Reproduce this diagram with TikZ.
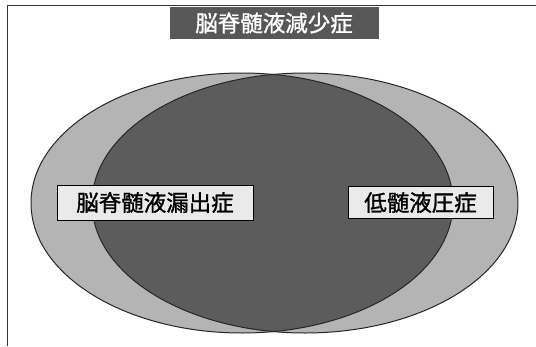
\documentclass[tikz,border=0pt]{standalone}
\usepackage{fontspec}
\newfontfamily\jp{Noto Sans CJK JP}[FakeBold=1.2]
\definecolor{lightg}{HTML}{B4B4B4}
\definecolor{darkg}{HTML}{5C5C5C}
\definecolor{titleg}{HTML}{575757}
\definecolor{labelg}{HTML}{EAEAEA}
\begin{document}
\begin{tikzpicture}[x=1pt,y=-1pt,
  labelbox/.style={draw=black, line width=0.9pt, fill=labelg, inner sep=0pt,
    font=\jp\fontsize{22.5}{24}\selectfont, text=black},
  titlebox/.style={fill=titleg, inner sep=0pt,
    font=\jp\fontsize{22.5}{24}\selectfont, text=white},
  ovalline/.style={draw=black!85, line width=1pt}]
\useasboundingbox (0,0) rectangle (536,346);
\fill[white] (0,0) rectangle (536,346);
% frame
\draw[line width=1pt, black!80] (536,5.5) -- (7.5,5.5) -- (7.5,346);
% ellipses
\fill[lightg] (242,203) ellipse [x radius=211pt, y radius=130pt];
\fill[lightg] (305,203) ellipse [x radius=213pt, y radius=130pt];
\begin{scope}
  \clip (242,203) ellipse [x radius=211pt, y radius=130pt];
  \fill[darkg] (305,203) ellipse [x radius=213pt, y radius=130pt];
\end{scope}
\draw[ovalline] (242,203) ellipse [x radius=211pt, y radius=130pt];
\draw[ovalline] (305,203) ellipse [x radius=213pt, y radius=130pt];
% title
\node[titlebox, minimum width=209pt, minimum height=32pt] (title) at (274,23) {脳脊髄液減少症};
% labels
\node[labelbox, minimum width=196pt, minimum height=35pt] (leak) at (155,202.5) {脳脊髄液漏出症};
\node[labelbox, minimum width=145pt, minimum height=32pt] (lowp) at (420.5,202.5) {低髄液圧症};
\end{tikzpicture}
\end{document}
